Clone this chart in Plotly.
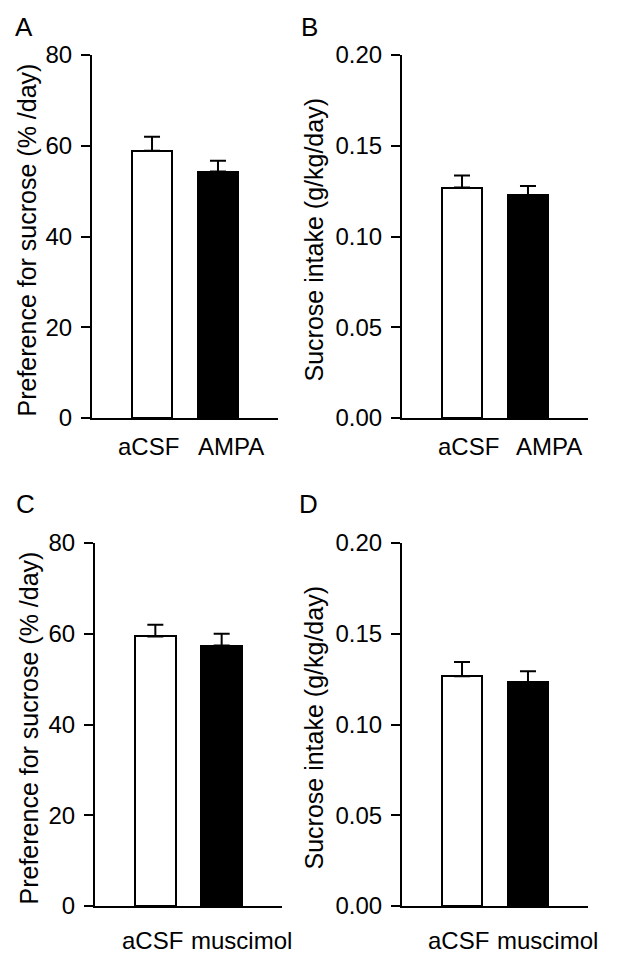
import plotly.graph_objects as go

# ---- data ----
categories_top = ["aCSF", "AMPA"]
categories_bottom = ["aCSF", "muscimol"]
pref_ampa = [58.9, 54.3]
pref_ampa_err = [3.1, 2.4]
intake_ampa = [0.127, 0.1229]
intake_ampa_err = [0.0066, 0.0049]
pref_musc = [59.4, 57.4]
pref_musc_err = [2.6, 2.6]
intake_musc = [0.1266, 0.1234]
intake_musc_err = [0.0078, 0.0059]
pref_ticks = [0, 20, 40, 60, 80]
intake_ticks = [0.0, 0.05, 0.10, 0.15, 0.20]
intake_ticktext = ["0.00", "0.05", "0.10", "0.15", "0.20"]
panel_letters = ["A", "B", "C", "D"]
pref_title = "Preference for sucrose (% /day)"
intake_title = "Sucrose intake (g/kg/day)"

W, H = 619, 964
FONT = "Liberation Sans, Arial, sans-serif"

fig = go.Figure()

panels = [
    (pref_ampa, pref_ampa_err, categories_top, pref_ticks, [str(t) for t in pref_ticks], [0, 80], pref_title, (92, 278), (55, 418)),
    (intake_ampa, intake_ampa_err, categories_top, intake_ticks, intake_ticktext, [0, 0.2], intake_title, (402, 588), (55, 418)),
    (pref_musc, pref_musc_err, categories_bottom, pref_ticks, [str(t) for t in pref_ticks], [0, 80], pref_title, (95, 282), (543, 906)),
    (intake_musc, intake_musc_err, categories_bottom, intake_ticks, intake_ticktext, [0, 0.2], intake_title, (402, 588), (543, 906)),
]

label_pos = [[-0.05, 1.19], [0.1, 1.32], [-0.05, 1.3], [-0.05, 1.3]]
title_x_px = [26, 313, 28, 313]
letter_pos_px = [(24, 27), (309, 27), (25, 504), (308, 504)]
label_y_px = [446, 446, 940, 940]

annotations = []
for i, (vals, errs, cats, ticks, ticktext, yr, title, xd, yd) in enumerate(panels):
    n = i + 1
    xa = "x" if n == 1 else f"x{n}"
    ya = "y" if n == 1 else f"y{n}"
    fig.add_trace(go.Bar(
        x=list(range(len(vals))), y=vals, width=0.61,
        marker=dict(color=["white", "black"], line=dict(color="black", width=2)),
        error_y=dict(type="data", array=errs, arrayminus=[0] * len(errs), symmetric=False,
                     color="black", thickness=2, width=8),
        xaxis=xa, yaxis=ya, showlegend=False,
    ))
    xkey = "xaxis" if n == 1 else f"xaxis{n}"
    ykey = "yaxis" if n == 1 else f"yaxis{n}"
    fig.update_layout(**{
        xkey: dict(domain=[xd[0] / W, xd[1] / W], range=[-0.91, 1.91], showticklabels=False,
                   ticks="", showline=True, linecolor="black", linewidth=2, showgrid=False,
                   zeroline=False, anchor=ya, fixedrange=True, automargin=False),
        ykey: dict(domain=[1 - yd[1] / H, 1 - yd[0] / H], range=yr, tickvals=ticks, ticktext=ticktext,
                   ticks="outside", ticklen=9, tickwidth=2, tickcolor="black",
                   showline=True, linecolor="black", linewidth=2, showgrid=False, zeroline=False,
                   tickfont=dict(family=FONT, size=24, color="black"), anchor=xa,
                   ticklabelstandoff=4, automargin=False, fixedrange=True),
    })
    for c, p in zip(cats, label_pos[i]):
        annotations.append(dict(text=c, x=p, xref=xa, y=1 - label_y_px[i] / H, yref="paper",
                                showarrow=False, xanchor="center", yanchor="middle",
                                font=dict(family=FONT, size=24, color="black")))
    annotations.append(dict(text=title, textangle=-90, x=title_x_px[i] / W, xref="paper",
                            y=1 - ((yd[0] + yd[1]) / 2 + 4) / H, yref="paper", showarrow=False,
                            xanchor="center", yanchor="middle",
                            font=dict(family=FONT, size=25, color="black")))
    lx, ly = letter_pos_px[i]
    annotations.append(dict(text=panel_letters[i], x=lx / W, xref="paper", y=1 - ly / H, yref="paper",
                            showarrow=False, xanchor="center", yanchor="middle",
                            font=dict(family=FONT, size=26, color="black")))

fig.update_layout(
    width=W, height=H, margin=dict(l=0, r=0, t=0, b=0, pad=0, autoexpand=False),
    paper_bgcolor="white", plot_bgcolor="white",
    annotations=annotations, bargap=0,
)

fig.write_html("out.html", config={"displayModeBar": False},
               post_script="document.body.style.margin='0';")
